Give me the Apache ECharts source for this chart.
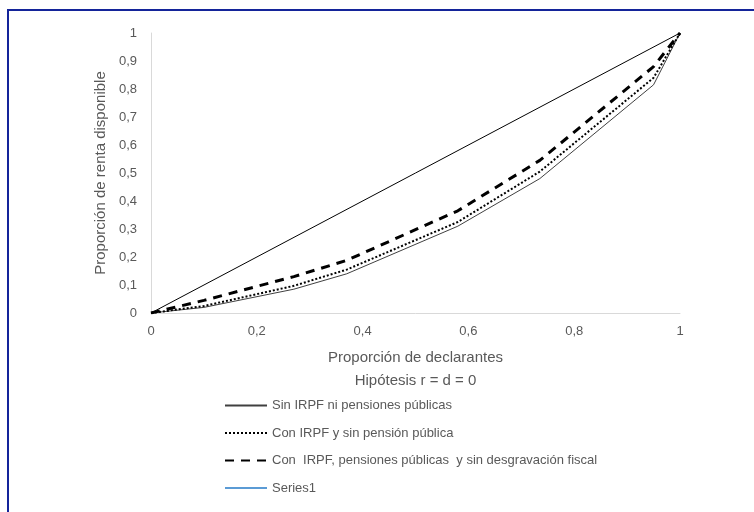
<!DOCTYPE html>
<html><head><meta charset="utf-8">
<script src="https://cdn.jsdelivr.net/npm/echarts@6/dist/echarts.min.js"></script>
<style>html,body{margin:0;padding:0;background:#fff}#c{width:754px;height:512px}</style>
</head><body><div id="c"></div>
<script>
var xDeclarantes = [0, 0.1, 0.27, 0.37, 0.58, 0.735, 0.95, 1];
var sinIrpf = [0, 0.02, 0.085, 0.14, 0.31, 0.48, 0.815, 1];
var conIrpfSinPension = [0, 0.025, 0.097, 0.155, 0.325, 0.505, 0.84, 1];
var conIrpfPensiones = [0, 0.045, 0.13, 0.188, 0.365, 0.545, 0.88, 1];
var igualdadX = [0, 1];
var igualdadY = [0, 1];
var series1 = [];
var names = ['Sin IRPF ni pensiones públicas', 'Con IRPF y sin pensión pública', 'Con  IRPF, pensiones públicas  y sin desgravación fiscal', 'Series1'];

function pairs(xs, ys) { return xs.map(function (x, i) { return [x, ys[i]]; }); }
var fmt = function (v) { return String(Math.round(v * 10) / 10).replace('.', ','); };
var font = 'Liberation Sans';
var chart = echarts.init(document.getElementById('c'));
chart.setOption({
  animation: false,
  textStyle: { fontFamily: font },
  grid: { left: 151, right: 74, top: 33, bottom: 199 },
  graphic: [{ type: 'rect', shape: { x: 8, y: 10, width: 800, height: 600 }, style: { fill: 'none', stroke: '#14249a', lineWidth: 2 }, silent: true }],
  legend: {
    orient: 'vertical', left: 219, top: 394, itemWidth: 42, itemHeight: 10, itemGap: 14.5,
    data: names,
    itemStyle: { opacity: 0 },
    textStyle: { color: '#595959', fontSize: 13, fontFamily: font }
  },
  xAxis: {
    type: 'value', min: 0, max: 1, interval: 0.2,
    name: 'Proporción de declarantes\nHipótesis r = d = 0', nameLocation: 'middle', nameGap: 33,
    nameTextStyle: { color: '#595959', fontSize: 15, lineHeight: 23 },
    axisLine: { show: true, lineStyle: { color: '#d9d9d9' } },
    axisTick: { show: false }, splitLine: { show: false },
    axisLabel: { color: '#595959', fontSize: 13, margin: 12, formatter: fmt }
  },
  yAxis: {
    type: 'value', min: 0, max: 1, interval: 0.1,
    name: 'Proporción de renta disponible', nameLocation: 'middle', nameGap: 40,
    nameTextStyle: { color: '#595959', fontSize: 15 },
    axisLine: { show: true, lineStyle: { color: '#d9d9d9' } },
    axisTick: { show: false }, splitLine: { show: false },
    axisLabel: { color: '#595959', fontSize: 13, margin: 14, formatter: fmt }
  },
  series: [
    { name: 'igualdad', type: 'line', data: pairs(igualdadX, igualdadY), symbol: 'none', lineStyle: { color: '#000', width: 1 }, itemStyle: { color: '#000' } },
    { name: names[0], type: 'line', data: pairs(xDeclarantes, sinIrpf), symbol: 'none', lineStyle: { color: '#404040', width: 1 }, itemStyle: { color: '#404040' } },
    { name: names[1], type: 'line', data: pairs(xDeclarantes, conIrpfSinPension), symbol: 'none', lineStyle: { color: '#000', width: 2, type: [2, 2] }, itemStyle: { color: '#000' } },
    { name: names[2], type: 'line', data: pairs(xDeclarantes, conIrpfPensiones), symbol: 'none', lineStyle: { color: '#000', width: 3, type: [9, 7] }, itemStyle: { color: '#000' } },
    { name: names[3], type: 'line', data: series1, symbol: 'none', lineStyle: { color: '#5b9bd5', width: 2 }, itemStyle: { color: '#5b9bd5' } }
  ]
});
</script></body></html>
